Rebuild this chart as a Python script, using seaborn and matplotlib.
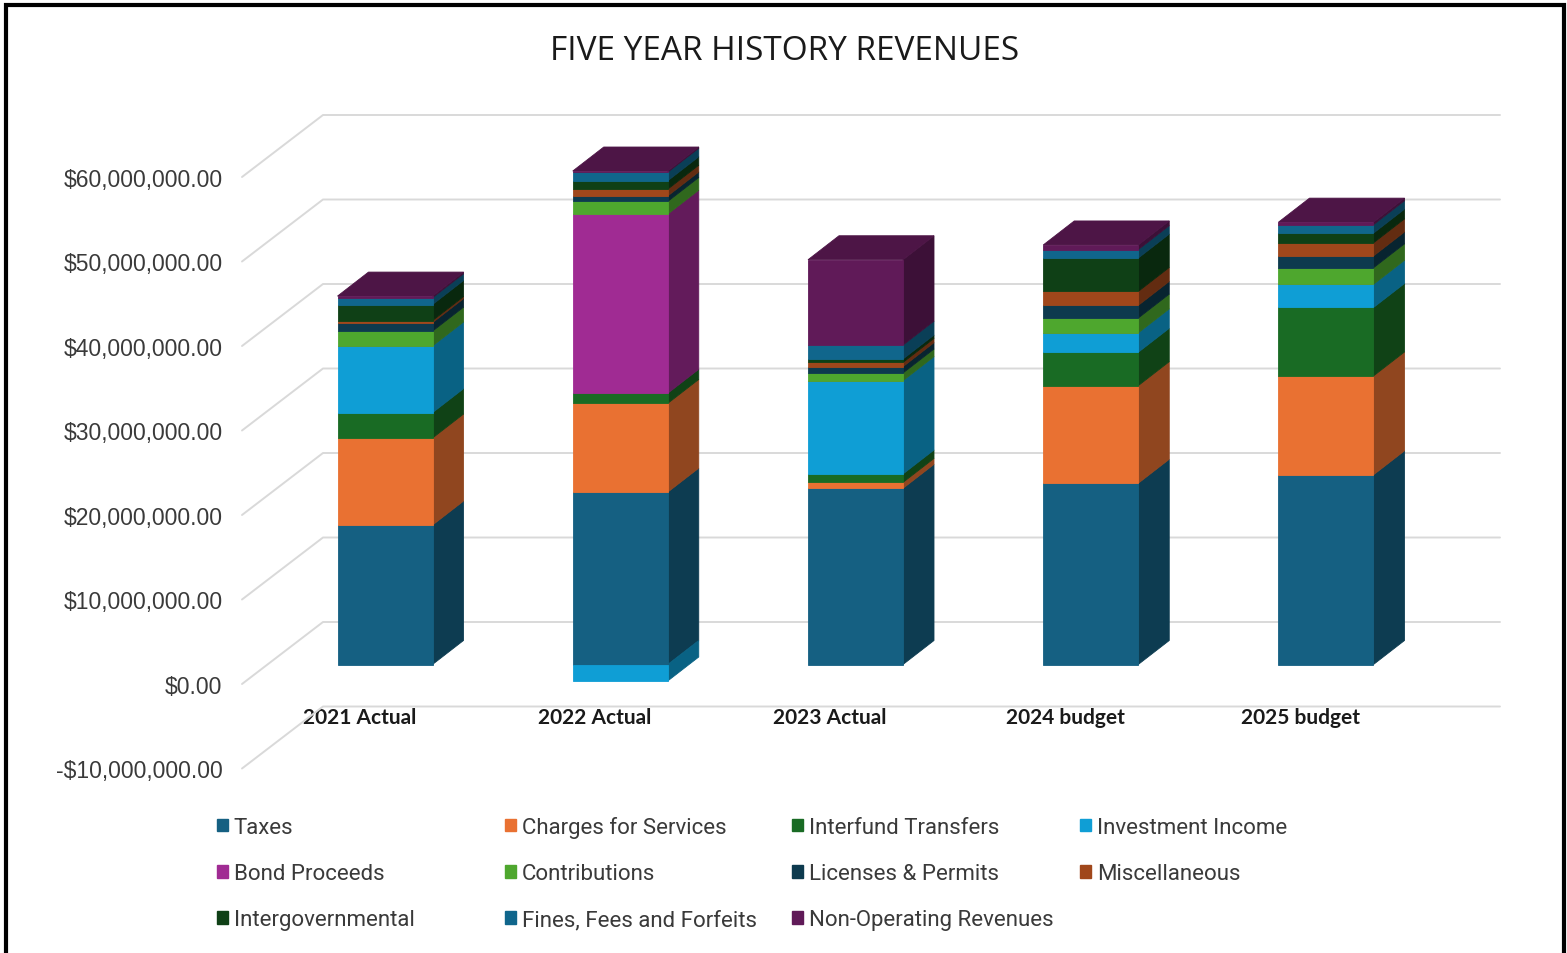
import numpy as np
import pandas as pd
import matplotlib
matplotlib.use("Agg")
import matplotlib.pyplot as plt
from matplotlib.patches import Patch, Rectangle
from matplotlib.ticker import FuncFormatter, FixedLocator
from matplotlib.colors import to_rgb
import seaborn as sns

# ---------------------------------------------------------------- data
categories = ["2021 Actual", "2022 Actual", "2023 Actual", "2024 budget", "2025 budget"]

series_names = [
    "Taxes", "Charges for Services", "Interfund Transfers", "Investment Income",
    "Bond Proceeds", "Contributions", "Licenses & Permits", "Miscellaneous",
    "Intergovernmental", "Fines, Fees and Forfeits", "Non-Operating Revenues",
]

# amounts in dollars, one list per revenue source (stack order bottom -> top)
taxes = [16.50e6, 20.40e6, 20.85e6, 21.45e6, 22.45e6]
charges = [10.30e6, 10.50e6, 0.70e6, 11.55e6, 11.70e6]
interfund = [3.00e6, 1.20e6, 1.00e6, 3.95e6, 8.10e6]
investment = [7.90e6, -1.95e6, 11.05e6, 2.30e6, 2.75e6]
bond = [0.0, 21.20e6, 0.0, 0.0, 0.0]
contributions = [1.75e6, 1.50e6, 0.90e6, 1.75e6, 1.95e6]
licenses = [1.00e6, 0.65e6, 0.75e6, 1.50e6, 1.40e6]
misc = [0.25e6, 0.80e6, 0.50e6, 1.65e6, 1.55e6]
intergov = [1.90e6, 1.00e6, 0.40e6, 3.95e6, 1.15e6]
fines = [0.80e6, 1.00e6, 1.65e6, 1.00e6, 1.00e6]
nonop = [0.20e6, 0.15e6, 10.10e6, 0.55e6, 0.30e6]

series_values = [taxes, charges, interfund, investment, bond, contributions,
                 licenses, misc, intergov, fines, nonop]

series_colors = ["#156082", "#E97132", "#196B24", "#0F9ED5", "#A02B93", "#4EA72E",
                 "#0D3A4E", "#A0471B", "#0F4016", "#10668C", "#601A58"]

y_ticks = [-10e6, 0, 10e6, 20e6, 30e6, 40e6, 50e6, 60e6]

# ---------------------------------------------------------------- style
sns.set_style("white")
plt.rcParams["font.family"] = ["Liberation Sans", "DejaVu Sans"]

W, H, DPI = 1567, 954, 100
fig = plt.figure(figsize=(W / DPI, H / DPI), dpi=DPI)
fig.patch.set_facecolor("white")

# plot area in pixels
AX_L, AX_R, AX_T, AX_B = 242, 1510, 95, 800
ax = fig.add_axes([AX_L / W, 1 - AX_B / H, (AX_R - AX_L) / W, (AX_B - AX_T) / H])

SLOT = 235.25      # pixels per category
PX_PER_M = 8.45    # pixels per $1M
X0 = 385.0         # pixel x of first category centre
Y0 = 665.5         # pixel y of $0 on the bar fronts

BAR_W = 95 / SLOT
SIDE_DX = 31 / SLOT
SIDE_DY = 24 / PX_PER_M * 1e6
FRONT_DX = -25.5 / SLOT
FRONT_DY = -19.5 / PX_PER_M * 1e6
BACK_DX = 55.5 / SLOT
BACK_DY = 42.5 / PX_PER_M * 1e6


def shade(c, f):
    r, g, b = to_rgb(c)
    return (r * f, g * f, b * f)


# ---------------------------------------------------------------- bars
n = len(categories)
pos_base = np.zeros(n)
neg_base = np.zeros(n)
top_color = [None] * n

for name, vals, col in zip(series_names, series_values, series_colors):
    vals = np.asarray(vals, dtype=float)
    bottoms = np.where(vals >= 0, pos_base, neg_base)
    df = pd.DataFrame({"Year": categories, "Amount": vals})
    sns.barplot(data=df, x="Year", y="Amount", order=categories, bottom=bottoms,
                color=col, saturation=1, width=BAR_W, errorbar=None,
                linewidth=0.6, edgecolor=col, zorder=3, ax=ax)
    # right-hand side faces of every segment
    for i in range(n):
        v = vals[i]
        if v == 0:
            continue
        b = bottoms[i]
        t = b + v
        lo, hi = min(b, t), max(b, t)
        xr = i + BAR_W / 2
        ax.fill([xr, xr + SIDE_DX, xr + SIDE_DX, xr],
                [lo, lo + SIDE_DY, hi + SIDE_DY, hi],
                facecolor=shade(col, 0.62), edgecolor=shade(col, 0.62),
                linewidth=0.6, zorder=2)
        if v > 0:
            top_color[i] = col
    pos_base = pos_base + np.where(vals > 0, vals, 0)
    neg_base = neg_base + np.where(vals < 0, vals, 0)

# top faces
for i in range(n):
    T = pos_base[i]
    xl, xr = i - BAR_W / 2, i + BAR_W / 2
    c = shade(top_color[i], 0.8)
    ax.fill([xl, xl + SIDE_DX, xr + SIDE_DX, xr], [T, T + SIDE_DY, T + SIDE_DY, T],
            facecolor=c, edgecolor=c, linewidth=0.6, zorder=2)

ax.set_xlim((AX_L - X0) / SLOT, (AX_R - X0) / SLOT)
ax.set_ylim((Y0 - AX_B) / PX_PER_M * 1e6, (Y0 - AX_T) / PX_PER_M * 1e6)

# ---------------------------------------------------------------- walls / gridlines
x_wall_front = ax.get_xlim()[0]
x_wall_back = x_wall_front + (BACK_DX - FRONT_DX)
x_back_end = (1500 - X0) / SLOT
for v in y_ticks:
    ax.plot([x_wall_front, x_wall_back, x_back_end],
            [v + FRONT_DY, v + BACK_DY, v + BACK_DY],
            color="#d9d9d9", linewidth=1.4, zorder=1, clip_on=False)

# ---------------------------------------------------------------- axes / labels
for s in ax.spines.values():
    s.set_visible(False)
ax.set_xlabel("")
ax.set_ylabel("")
ax.set_yticks([])
ax.spines["bottom"].set_position(("data", (Y0 - 708) / PX_PER_M * 1e6))
ax.xaxis.set_major_locator(FixedLocator([i + FRONT_DX for i in range(n)]))
ax.set_xticklabels(categories, fontsize=15, fontweight="bold", color="#1a1a1a",
                   family=["Lato", "DejaVu Sans"])
ax.tick_params(axis="x", length=0, pad=0)

ax2 = ax.twinx()
lo, hi = ax.get_ylim()
ax2.set_ylim(lo - FRONT_DY, hi - FRONT_DY)
ax2.yaxis.tick_left()
ax2.set_yticks(y_ticks)


def money(v, _):
    s = "${:,.2f}".format(abs(v))
    return "-" + s if v < 0 else s


ax2.yaxis.set_major_formatter(FuncFormatter(money))
ax2.tick_params(axis="y", length=0, pad=14, labelsize=16.5, labelcolor="#3a3a3a")
for s in ax2.spines.values():
    s.set_visible(False)
ax2.grid(False)
ax.grid(False)

# ---------------------------------------------------------------- title
fig.text(785 / W, 1 - 51 / H, "FIVE YEAR HISTORY REVENUES", ha="center", va="center",
         fontsize=24, color="#1a1a1a", family=["Open Sans", "DejaVu Sans"])

# ---------------------------------------------------------------- legend (4 columns, row-major)
handles = [Patch(facecolor=c, edgecolor=c) for c in series_colors]
col_x = [217, 505, 792, 1080]
col_top = [818, 817, 818, 818]
for ci, (x, y) in enumerate(zip(col_x, col_top)):
    idx = list(range(ci, len(series_names), 4))
    leg = fig.legend([handles[k] for k in idx], [series_names[k] for k in idx],
                     loc="upper left", bbox_to_anchor=(x / W, 1 - y / H),
                     frameon=False, ncol=1,
                     handlelength=0.5, handleheight=0.5, handletextpad=0.25,
                     labelspacing=1.13, borderpad=0, borderaxespad=0,
                     prop={"family": ["Roboto", "DejaVu Sans"], "size": 16})
    for t in leg.get_texts():
        t.set_color("#3a3a3a")

# ---------------------------------------------------------------- outer frame
fig.patches.append(Rectangle((6 / W, -0.1), (1564 - 6) / W, (H - 6) / H + 0.1,
                             transform=fig.transFigure, fill=False,
                             edgecolor="black", linewidth=3))

fig.savefig("out.png", dpi=DPI)
